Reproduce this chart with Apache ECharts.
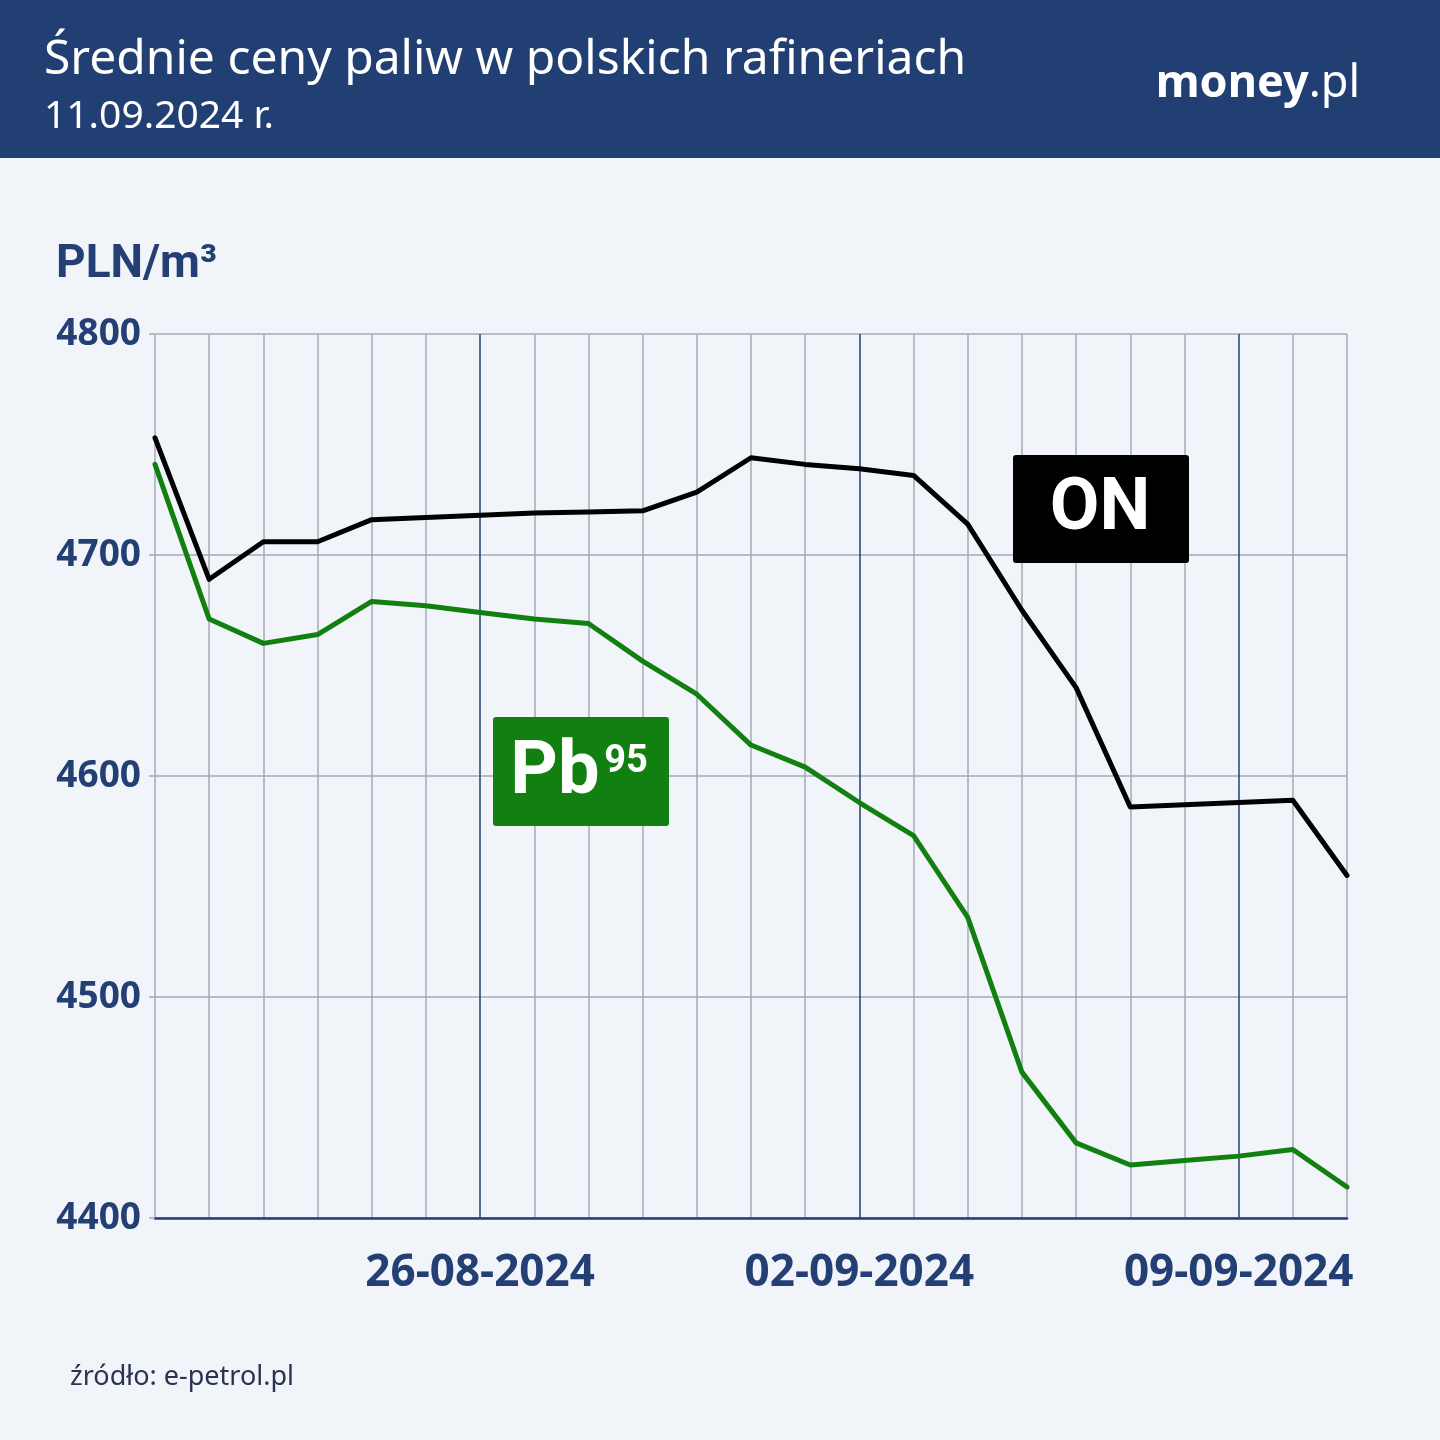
<!DOCTYPE html>
<html>
<head>
<meta charset="utf-8">
<script src="https://cdn.jsdelivr.net/npm/echarts@6/dist/echarts.min.js"></script>
<style>
html,body{margin:0;padding:0;background:#f1f4f8;}
#c{width:1440px;height:1440px;}
</style>
</head>
<body>
<div id="c"></div>
<script>
const dates = ['20-08-2024','21-08-2024','22-08-2024','23-08-2024','24-08-2024','25-08-2024','26-08-2024',
  '27-08-2024','28-08-2024','29-08-2024','30-08-2024','31-08-2024','01-09-2024','02-09-2024',
  '03-09-2024','04-09-2024','05-09-2024','06-09-2024','07-09-2024','08-09-2024','09-09-2024',
  '10-09-2024','11-09-2024'];
const onValues = [4753,4689,4706,4706,4716,4717,4718,4719,4719.5,4720,4728.5,4744,4741,4739,
  4736,4714,4675,4640,4586,4587,4588,4589,4555];
const pbValues = [4741,4671,4660,4664,4679,4677,4674,4671,4669,4652,4637,4614,4604,4588,
  4573,4536,4466,4434,4424,4426,4428,4431,4414];
const yTicks = {min:4400, max:4800, interval:100};

const navy = '#233f73';
const grey = '#a3abb9';
const green = '#118010';

const chart = echarts.init(document.getElementById('c'), null, {renderer:'canvas'});
chart.setOption({
  backgroundColor:'#f1f4f8',
  animation:false,
  grid:{left:155, right:93, top:334, bottom:222},
  xAxis:{
    type:'category', boundaryGap:false, data:dates,
    axisLine:{show:true, lineStyle:{color:navy, width:2.5}},
    axisTick:{show:false},
    axisLabel:{
      interval:function(i){return i%7===6;},
      color:navy, fontFamily:'"Noto Sans"', fontWeight:'bold', fontSize:44, margin:33
    },
    splitLine:{show:true, interval:0, lineStyle:{color:[grey,grey,grey,grey,grey,grey,navy], width:1.5}}
  },
  yAxis:{
    type:'value', min:yTicks.min, max:yTicks.max, interval:yTicks.interval,
    axisLine:{show:false},
    axisTick:{show:true, length:6, lineStyle:{color:grey, width:1.5}},
    axisLabel:{color:navy, fontFamily:'"Noto Sans"', fontWeight:'bold', fontSize:37, margin:14,
      formatter:function(v){return String(v);}},
    splitLine:{show:true, lineStyle:{color:grey, width:1.5}}
  },
  series:[
    {name:'Pb95', type:'line', data:pbValues, symbol:'none',
      lineStyle:{color:green, width:5, cap:'round', join:'round'}, z:3},
    {name:'ON', type:'line', data:onValues, symbol:'none',
      lineStyle:{color:'#000', width:5, cap:'round', join:'round'}, z:4}
  ],
  graphic:[
    {type:'rect', left:0, top:0, shape:{x:0,y:0,width:1440,height:158}, style:{fill:'#223f73'}, z:10},
    {type:'text', z:11, style:{text:'Średnie ceny paliw w polskich rafineriach', x:44, y:60, fill:'#fff',
      font:'48px "Noto Sans"', textVerticalAlign:'middle'}},
    {type:'text', z:11, style:{text:'11.09.2024 r.', x:44, y:117, fill:'#fff',
      font:'39px "Noto Sans"', textVerticalAlign:'middle'}},
    {type:'text', z:11, style:{text:'{a|money}{b|.pl}', x:1360, y:84, fill:'#fff', textAlign:'right', textVerticalAlign:'middle',
      rich:{a:{fontFamily:'Noto Sans', fontWeight:'bold', fontSize:45, fill:'#fff'},
            b:{fontFamily:'Noto Sans', fontWeight:'normal', fontSize:45, fill:'#fff'}}}},
    {type:'text', z:11, style:{text:'PLN/m³', x:56, y:265, fill:navy,
      font:'bold 46px Roboto', textVerticalAlign:'middle'}},
    {type:'text', z:11, style:{text:'źródło: e-petrol.pl', x:70, y:1377, fill:'#283452',
      font:'27px "Noto Sans"', textVerticalAlign:'middle'}},
    {type:'rect', z:12, shape:{x:1013, y:455, width:176, height:108, r:3}, style:{fill:'#000'}},
    {type:'text', z:13, style:{text:'ON', x:1100, y:511, fill:'#fff', font:'bold 72px Roboto',
      textAlign:'center', textVerticalAlign:'middle'}},
    {type:'rect', z:12, shape:{x:493, y:717, width:176, height:109, r:3}, style:{fill:green}},
    {type:'text', z:13, style:{text:'Pb', x:555, y:774, fill:'#fff', font:'bold 74px Roboto',
      textAlign:'center', textVerticalAlign:'middle'}},
    {type:'text', z:13, style:{text:'95', x:626, y:762, fill:'#fff', font:'bold 38px Roboto',
      textAlign:'center', textVerticalAlign:'middle'}}
  ]
});
</script>
</body>
</html>
